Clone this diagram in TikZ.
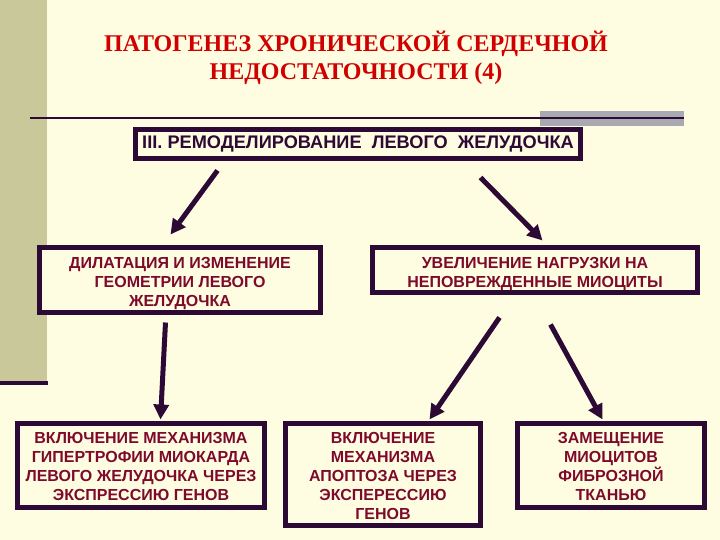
\documentclass[tikz,border=0pt]{standalone}
\usepackage{fontspec}
\setmainfont{Liberation Serif}
\setsansfont{Liberation Sans}
\usetikzlibrary{arrows.meta,calc}
\definecolor{bgc}{HTML}{FFFDE1}
\definecolor{barc}{HTML}{C8C89A}
\definecolor{darkc}{HTML}{2D0A35}
\definecolor{grayc}{HTML}{A9A9B1}
\definecolor{redc}{HTML}{D00000}
\definecolor{maroonc}{HTML}{7D0A2D}
\tikzset{
  box/.style={draw=darkc, line width=5pt, fill=bgc, inner sep=0pt},
  boxtext/.style={align=center, inner sep=0pt,
    font=\sffamily\bfseries\fontsize{16}{19}\selectfont, text=maroonc},
  arr/.style={draw=darkc, line width=5pt, -{Triangle[length=15pt,width=15pt]}},
}
\begin{document}
\begin{tikzpicture}[x=1pt,y=-1pt]
\useasboundingbox (0,0) rectangle (720,540);
\fill[bgc] (0,0) rectangle (720,540);
% left bar
\fill[barc] (0,0) rectangle (47,382);
\draw[darkc, line width=4pt] (0,383) -- (48,383);
% header line
\fill[grayc] (540,111) rectangle (684,126);
\draw[darkc, line width=2pt] (30,118) -- (684,118);
% title
\node[font=\bfseries\fontsize{24}{28}\selectfont, text=redc, align=center] (title) at (356,58)
  {ПАТОГЕНЕЗ ХРОНИЧЕСКОЙ СЕРДЕЧНОЙ\\НЕДОСТАТОЧНОСТИ (4)};
% boxes
\node[box, minimum width=445pt, minimum height=29pt] (top) at (358,144) {};
\node[boxtext, text=darkc, font=\sffamily\bfseries\fontsize{18.2}{20}\selectfont] (toptxt) at (top)
  {III. РЕМОДЕЛИРОВАНИЕ\ \ ЛЕВОГО\ \ ЖЕЛУДОЧКА};
\node[box, minimum width=281pt, minimum height=65pt] (A) at (180,280) {};
\node[boxtext] (Atxt) at ($(A)+(0,4)$)
  {ДИЛАТАЦИЯ И ИЗМЕНЕНИЕ\\ГЕОМЕТРИИ ЛЕВОГО\\ЖЕЛУДОЧКА};
\node[box, minimum width=325pt, minimum height=45pt] (B) at (535,270) {};
\node[boxtext] (Btxt) at ($(B)+(0,4)$)
  {УВЕЛИЧЕНИЕ НАГРУЗКИ НА\\НЕПОВРЕЖДЕННЫЕ МИОЦИТЫ};
\node[box, minimum width=247pt, minimum height=84pt] (C) at (141,465.5) {};
\node[boxtext] (Ctxt) at ($(C)+(0,1)$)
  {ВКЛЮЧЕНИЕ МЕХАНИЗМА\\ГИПЕРТРОФИИ МИОКАРДА\\ЛЕВОГО ЖЕЛУДОЧКА ЧЕРЕЗ\\ЭКСПРЕССИЮ ГЕНОВ};
\node[box, minimum width=195pt, minimum height=102pt] (D) at (383,474.5) {};
\node[boxtext] (Dtxt) at ($(D)+(0,1)$)
  {ВКЛЮЧЕНИЕ\\МЕХАНИЗМА\\АПОПТОЗА ЧЕРЕЗ\\ЭКСПЕРЕССИЮ\\ГЕНОВ};
\node[box, minimum width=187pt, minimum height=84pt] (E) at (611,465.5) {};
\node[boxtext] (Etxt) at ($(E)+(0,1)$)
  {ЗАМЕЩЕНИЕ\\МИОЦИТОВ\\ФИБРОЗНОЙ\\ТКАНЬЮ};
% arrows
\draw[arr] ($(top.south west)+(84.5,9.5)$) -- ($(A.north west)+(133.5,-10.5)$);
\draw[arr] ($(top.south west)+(347.5,16.5)$) -- ($(B.north west)+(172.5,-4.5)$);
\draw[arr] ($(A.south west)+(128.5,7.5)$) -- ($(C.north west)+(145.5,-1.5)$);
\draw[arr] ($(B.south west)+(129.5,22.5)$) -- ($(D.north west)+(146.5,-1.5)$);
\draw[arr] ($(B.south west)+(180.5,29.5)$) -- ($(E.north west)+(87.5,-1.5)$);
\end{tikzpicture}
\end{document}
